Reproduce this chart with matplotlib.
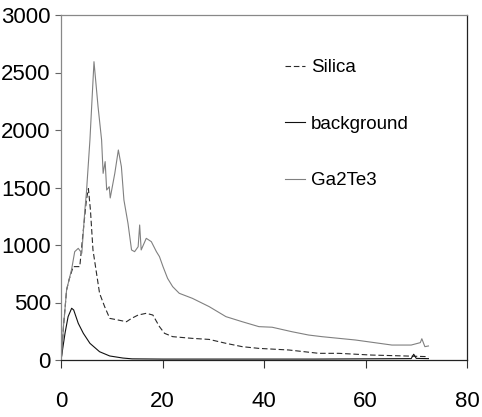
"""
XRD-style intensity curves: Ga2Te3 film, silica substrate and background.
Output: out.png
"""

import matplotlib
matplotlib.use('Agg')
import matplotlib.pyplot as plt

plt.rcParams['font.family'] = ['Liberation Sans', 'DejaVu Sans']

# ── data ────────────────────────────────────────────────────────────────────
ga2te3_x = [0.1, 0.5, 0.8, 1.1, 1.6, 2.1, 2.7, 3.4, 4.1, 4.7, 5.0, 5.7, 6.5,
            7.3, 8.0, 8.3, 8.7, 9.0, 9.5, 9.7, 10.6, 11.3, 11.9, 12.4, 13.2,
            13.9, 14.5, 15.2, 15.5, 15.8, 16.8, 17.8, 18.8, 19.4, 20.1, 21.0,
            22.0, 23.3, 25.9, 29.2, 32.5, 35.7, 39.0, 41.6, 45.5, 48.8, 51.4,
            58.0, 65.2, 69.0, 70.8, 71.1, 71.7, 72.4]
ga2te3_y = [30, 300, 450, 609, 700, 790, 942, 971, 928, 1304, 1450, 1913, 2594,
            2203, 1913, 1623, 1725, 1478, 1507, 1409, 1623, 1826, 1681, 1391, 1188,
            957, 942, 985, 1174, 957, 1058, 1029, 942, 899, 812, 710,
            638, 580, 536, 464, 377, 333, 290, 285, 246, 217, 203,
            174, 130, 130, 151, 185, 116, 122]

silica_x = [0.1, 0.5, 0.8, 1.1, 1.6, 2.4, 3.7, 4.4, 5.0, 5.4, 5.8, 6.3, 7.0,
            7.6, 8.6, 9.6, 11.2, 12.9, 13.9, 15.2, 16.8, 18.1, 19.4, 20.4,
            22.0, 25.9, 29.2, 32.5, 35.7, 39.0, 44.9, 50.8, 54.7, 61.2, 67.8, 72.4]
silica_y = [30, 300, 450, 609, 700, 812, 812, 1130, 1391, 1490, 1304, 957, 754,
            580, 464, 362, 348, 333, 362, 391, 406, 391, 290, 232,
            203, 188, 179, 145, 116, 101, 87, 58, 58, 43, 35, 29]

background_x = [0.1, 0.8, 1.4, 2.1, 2.5, 3.4, 4.4, 5.7, 7.6, 9.6, 12.2, 14.0,
                20.0, 30.0, 40.0, 50.0, 60.0, 69.0, 69.5, 70.0, 72.4]
background_y = [29, 235, 377, 450, 435, 319, 232, 145, 72, 35, 17, 10,
                8, 8, 8, 8, 10, 12, 50, 14, 12]

x_ticks = [0, 20, 40, 60, 80]
y_ticks = [0, 500, 1000, 1500, 2000, 2500, 3000]


def plot():
    fig = plt.figure(figsize=(4.82, 4.17), dpi=100)
    ax = fig.add_axes([61 / 482, 1 - 360 / 417, 406 / 482, 345 / 417])

    ax.plot(silica_x, silica_y, color='#2a2a2a', lw=0.8, dashes=(5, 2.5),
            label='Silica')
    ax.plot(background_x, background_y, color='#111111', lw=0.8,
            label='background')
    ax.plot(ga2te3_x, ga2te3_y, color='#808080', lw=0.8, label='Ga2Te3')

    ax.set_xlim(0, 80)
    ax.set_ylim(0, 3000)
    ax.set_xticks(x_ticks)
    ax.set_yticks(y_ticks)
    ax.tick_params(axis='y', direction='out', length=4.3, width=0.8,
                   pad=3.0, labelsize=16, color='#666666')
    ax.tick_params(axis='x', direction='out', length=5.8, width=0.8,
                   pad=16.5, labelsize=16, color='#333333')

    ax.spines['left'].set_color('#888888')
    ax.spines['top'].set_color('#888888')
    ax.spines['right'].set_color('#222222')
    ax.spines['bottom'].set_color('#222222')
    for s in ax.spines.values():
        s.set_linewidth(0.9)

    ax.legend(loc='upper left', bbox_to_anchor=(285 / 482, 1 - 59 / 417),
              bbox_transform=fig.transFigure, frameon=False, fontsize=13.5,
              handlelength=1.05, handletextpad=0.35, labelspacing=2.1,
              borderpad=0, borderaxespad=0)

    fig.savefig('out.png', dpi=100)


if __name__ == '__main__':
    plot()
